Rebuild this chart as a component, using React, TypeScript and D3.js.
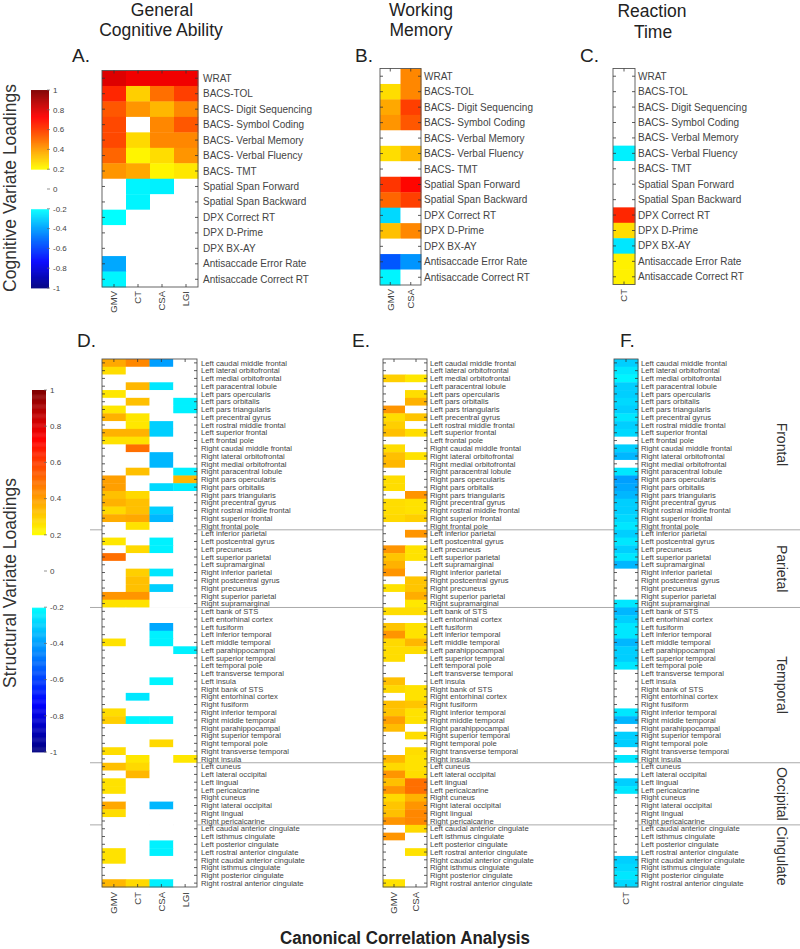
import React from "react";
import * as d3 from "d3";

const FONT = "Arial, 'Liberation Sans', sans-serif";

const cogMeasures = [
  "WRAT", "BACS-TOL", "BACS- Digit Sequencing", "BACS- Symbol Coding", "BACS- Verbal Memory",
  "BACS- Verbal Fluency", "BACS- TMT", "Spatial Span Forward", "Spatial Span Backward",
  "DPX Correct RT", "DPX D-Prime", "DPX BX-AY", "Antisaccade Error Rate", "Antisaccade Correct RT",
];

const gcaCols = ["GMV", "CT", "CSA", "LGI"];
const wmCols = ["GMV", "CSA"];
const rtCols = ["CT"];

// Cognitive loadings (rows = cogMeasures)
const gcaCog = [
  [0.8, 0.76, 0.76, 0.76],
  [0.65, 0.3, 0.5, 0.6],
  [0.55, 0.42, 0.35, 0.45],
  [0.58, 0, 0.45, 0.55],
  [0.58, 0.28, 0.45, 0.45],
  [0.52, 0.22, 0.27, 0.42],
  [0.42, 0.38, 0.22, 0.25],
  [0, -0.22, -0.23, 0],
  [0, -0.22, 0, 0],
  [-0.2, 0, 0, 0],
  [0, 0, 0, 0],
  [0, 0, 0, 0],
  [-0.38, 0, 0, 0],
  [-0.22, 0, 0, 0],
];
const wmCog = [
  [0, 0.45], [0.27, 0.45], [0.38, 0.6], [0.42, 0.55], [0, 0], [0.27, 0.35], [0, 0],
  [0.62, 0.72], [0.52, 0.6], [-0.28, 0], [0.33, 0.45], [0, 0], [-0.55, -0.42], [-0.22, 0],
];
const rtCog = [0, 0, 0, 0, 0, -0.23, 0, 0, 0, 0.65, 0.27, -0.25, 0.23, 0.23];

const regions = [
  "Left caudal middle frontal", "Left lateral orbitofrontal", "Left medial orbitofrontal", "Left paracentral lobule",
  "Left pars opercularis", "Left pars orbitalis", "Left pars triangularis", "Left precentral gyrus",
  "Left rostral middle frontal", "Left superior frontal", "Left frontal pole", "Right caudal middle frontal",
  "Right lateral orbitofrontal", "Right medial orbitofrontal", "Right paracentral lobule", "Right pars opercularis",
  "Right pars orbitalis", "Right pars triangularis", "Right precentral gyrus", "Right rostral middle frontal",
  "Right superior frontal", "Right frontal pole",
  "Left inferior parietal", "Left postcentral gyrus", "Left precuneus", "Left superior parietal", "Left supramarginal",
  "Right inferior parietal", "Right postcentral gyrus", "Right precuneus", "Right superior parietal", "Right supramarginal",
  "Left bank of STS", "Left entorhinal cortex", "Left fusiform", "Left inferior temporal", "Left middle temporal",
  "Left parahippocampal", "Left superior temporal", "Left temporal pole", "Left transverse temporal", "Left insula",
  "Right bank of STS", "Right entorhinal cortex", "Right fusiform", "Right inferior temporal", "Right middle temporal",
  "Right parahippocampal", "Right superior temporal", "Right temporal pole", "Right transverse temporal", "Right insula",
  "Left cuneus", "Left lateral occipital", "Left lingual", "Left pericalcarine",
  "Right cuneus", "Right lateral occipital", "Right lingual", "Right pericalcarine",
  "Left caudal anterior cingulate", "Left isthmus cingulate", "Left posterior cingulate", "Left rostral anterior cingulate",
  "Right caudal anterior cingulate", "Right isthmus cingulate", "Right posterior cingulate", "Right rostral anterior cingulate",
];
const groupNames = ["Frontal", "Parietal", "Temporal", "Occipital", "Cingulate"];
const groupSizes = [22, 10, 20, 8, 8];

// Structural loadings (rows = regions)
const gcaStruct = [
  [0.38, 0.45, -0.4, 0], [0.27, 0, 0, 0], [0, 0, 0, 0], [0, 0.35, -0.25, 0],
  [0.25, 0, 0, 0], [0, 0.33, 0, -0.23], [0.25, 0, 0, -0.23], [0.36, 0.25, 0, 0],
  [0, 0.25, -0.3, 0], [0.36, 0.36, -0.3, 0], [0.26, 0.26, 0, 0], [0, 0.5, 0, 0],
  [0, 0, -0.35, 0], [0, 0, -0.35, 0], [0, 0.33, 0, -0.23], [0.4, 0, 0, 0.35],
  [0.4, 0, -0.28, -0.24], [0.33, 0.28, 0, 0], [0.36, 0.33, 0, 0], [0.28, 0.33, -0.3, 0],
  [0.37, 0.38, -0.35, 0], [0, 0.26, 0, 0],
  [0, 0, 0, 0], [0.25, 0, -0.23, 0], [0, 0.28, -0.23, 0], [0.5, 0, 0, 0], [0, 0, 0, 0],
  [0, 0.3, -0.25, 0], [0, 0.33, 0, 0], [0, 0.33, -0.3, 0], [0.42, 0.42, 0, 0], [0.26, 0.26, 0, 0],
  [0, 0, 0, 0], [0, 0, 0, 0], [0, 0, -0.38, 0], [0, 0, -0.23, 0], [0.26, 0, -0.23, 0],
  [0, 0, 0, -0.23], [0, 0, 0, 0], [0, 0, 0, 0], [0, 0, 0, 0], [0, 0, -0.22, 0],
  [0, 0, 0, 0], [0, -0.25, 0, 0], [0, 0, 0, 0], [0.27, 0, 0, 0], [0.3, -0.22, -0.22, 0],
  [0, 0, 0, 0], [0, 0, 0, 0], [0, 0, 0.28, 0], [0.27, 0, 0, 0], [0, 0.25, 0, 0.25],
  [0.33, 0.28, 0, 0], [0, 0.35, 0, 0], [0.26, 0, 0, 0], [0.26, 0, 0, 0],
  [0, 0, 0, 0], [0.38, 0, -0.35, 0], [0.27, 0, 0, 0], [0, 0, 0, 0],
  [0, 0, 0, 0], [0, 0, 0, 0], [0, 0, -0.23, 0], [0.26, 0, -0.23, 0],
  [0.26, 0, 0, 0], [0, 0, 0, 0], [0, 0, 0, 0], [0.35, 0.28, -0.23, 0],
];
const wmStruct = [
  [0, 0], [0, 0], [0.3, 0.25], [0, 0], [0, 0.27], [0, 0.36], [0.42, 0], [0.27, 0.32],
  [0.3, 0], [0.33, 0.27], [0, 0], [0.27, 0], [0.33, 0.26], [0.35, 0], [0, 0], [0.27, 0],
  [0.27, 0], [0, 0.42], [0.27, 0.26], [0.27, 0.26], [0.28, 0.3], [0, 0],
  [0, 0.42], [0, 0], [0.42, 0.26], [0.32, 0.26], [0.36, 0], [0.42, 0], [0, 0.32], [0.26, 0.32],
  [0, 0.37], [0, 0.25],
  [0.27, 0.27], [0, 0], [0.32, 0.26], [0.42, 0.26], [0.28, 0.35], [0.27, 0.27], [0.27, 0], [0, 0],
  [0, 0], [0.33, 0], [0.28, 0.26], [0, 0.26], [0.33, 0.32], [0.32, 0.26], [0.4, 0.26], [0.34, 0],
  [0, 0.27], [0, 0], [0, 0.27], [0.35, 0.26],
  [0.28, 0.26], [0.42, 0.27], [0.33, 0.5], [0.42, 0.5], [0.28, 0.36], [0.32, 0.42], [0.33, 0.45], [0.42, 0.45],
  [0, 0.28], [0.42, 0], [0, 0], [0, 0.26], [0, 0], [0, 0], [0, 0], [0.26, 0],
];
const rtStruct = [
  -0.3, -0.25, -0.22, -0.3, -0.3, -0.28, -0.3, -0.25, -0.3, -0.28, 0, -0.3, -0.35, 0, -0.25, -0.4,
  -0.38, -0.35, -0.3, -0.3, -0.28, -0.25,
  -0.3, -0.25, -0.3, -0.25, -0.35, 0, 0, 0, 0, -0.25,
  -0.35, -0.3, -0.25, -0.25, -0.35, -0.3, -0.3, -0.25, 0, 0, 0, 0, 0, -0.25, -0.35, 0, -0.3, -0.3, 0, -0.25,
  0, 0, -0.3, -0.25, 0, 0, 0, 0,
  0, 0, 0, 0, -0.3, -0.28, -0.25, -0.28,
];

const cbTicks = [1, 0.8, 0.6, 0.4, 0.2, 0, -0.2, -0.4, -0.6, -0.8, -1];

const posScale = d3.scaleLinear<string>().domain([0.2, 0.73, 1]).range(["#ffff00", "#ff0000", "#800000"]).clamp(true);
const negScale = d3.scaleLinear<string>().domain([-1, -0.73, -0.2]).range(["#000080", "#0000ff", "#00ffff"]).clamp(true);
function loadColor(v: number) {
  if (v >= 0.2) return posScale(v);
  if (v <= -0.2) return negScale(v);
  return "#ffffff";
}

type HMProps = {
  x: number; y: number; w: number; h: number;
  rows: string[]; cols: string[]; values: number[][];
  labelX: number; labelSize: number; colLabelY: number; colLabelSize: number;
};

function Heatmap({ x, y, w, h, rows, cols, values, labelX, labelSize, colLabelY, colLabelSize }: HMProps) {
  const xs = d3.scaleBand<string>().domain(cols).range([x, x + w]);
  const ys = d3.scaleBand<number>().domain(d3.range(rows.length)).range([y, y + h]);
  const bw = xs.bandwidth();
  const bh = ys.bandwidth();
  return (
    <g>
      {values.map((row, i) =>
        row.map((v, j) => (
          <rect key={`${i}-${j}`} x={xs(cols[j])!} y={ys(i)!} width={bw + 0.4} height={bh + 0.4} fill={loadColor(v)} />
        ))
      )}
      <rect x={x} y={y} width={w} height={h} fill="none" stroke="#555" strokeWidth={0.9} />
      {rows.map((_, i) => {
        const cy = ys(i)! + bh / 2;
        return (
          <g key={`t${i}`} stroke="#333" strokeWidth={0.8}>
            <line x1={x} x2={x + 3} y1={cy} y2={cy} />
            <line x1={x + w - 3} x2={x + w} y1={cy} y2={cy} />
          </g>
        );
      })}
      {cols.map((c) => {
        const cx = xs(c)! + bw / 2;
        return (
          <g key={`ct${c}`} stroke="#333" strokeWidth={0.8}>
            <line x1={cx} x2={cx} y1={y} y2={y + 3} />
            <line x1={cx} x2={cx} y1={y + h - 3} y2={y + h} />
          </g>
        );
      })}
      {rows.map((r, i) => (
        <text key={`l${i}`} x={labelX} y={ys(i)! + bh / 2} dy="0.35em" fontSize={labelSize} fill="#444" fontFamily={FONT}>
          {r}
        </text>
      ))}
      {cols.map((c) => {
        const cx = xs(c)! + bw / 2;
        return (
          <text key={`cl${c}`} transform={`translate(${cx + colLabelSize * 0.36},${colLabelY}) rotate(-90)`}
            textAnchor="end" fontSize={colLabelSize} fill="#444" fontFamily={FONT}>
            {c}
          </text>
        );
      })}
    </g>
  );
}

function ColorBar({ x, y, w, h, labelSize }: { x: number; y: number; w: number; h: number; labelSize: number }) {
  const s = d3.scaleLinear().domain([1, -1]).range([y, y + h]);
  const step = 0.005;
  const vals = d3.range(-1, 1, step);
  return (
    <g>
      {vals.map((v, i) => (
        <rect key={i} x={x} y={s(v + step)} width={w} height={s(v) - s(v + step) + 0.4} fill={loadColor(v + step / 2)} />
      ))}
      {cbTicks.map((t) => (
        <g key={t}>
          <line x1={x + w - 2} x2={x + w + 1} y1={s(t)} y2={s(t)} stroke="#666" strokeWidth={0.7} />
          <text x={x + w + 4} y={s(t)} dy="0.35em" fontSize={labelSize} fill="#444" fontFamily={FONT}>
            {String(t)}
          </text>
        </g>
      ))}
    </g>
  );
}

export default function App() {
  const dTop = 359;
  const dH = 528;
  const ys = d3.scaleLinear().domain([0, regions.length]).range([dTop, dTop + dH]);
  const bounds = d3.cumsum(groupSizes);
  const starts = [0, ...Array.from(bounds).slice(0, -1)];
  return (
    <svg width={800} height={949} style={{ position: "absolute", left: 0, top: 0, background: "#fff" }} fontFamily={FONT}>
      <rect width={800} height={949} fill="#fff" />
      {/* Titles */}
      <g fontSize={17.5} fill="#222" textAnchor="middle">
        <text x={162} y={15.5}>General</text>
        <text x={161} y={36}>Cognitive Ability</text>
        <text x={421} y={15.5}>Working</text>
        <text x={421} y={36}>Memory</text>
        <text x={652} y={17}>Reaction</text>
        <text x={653} y={38}>Time</text>
      </g>
      <g fontSize={19} fill="#222">
        <text x={72} y={62}>A.</text>
        <text x={355} y={62}>B.</text>
        <text x={580} y={62}>C.</text>
        <text x={77} y={347}>D.</text>
        <text x={352} y={347}>E.</text>
        <text x={620} y={347}>F.</text>
      </g>
      <text transform="translate(16,188) rotate(-90)" textAnchor="middle" fontSize={17.5} fill="#333">Cognitive Variate Loadings</text>
      <text transform="translate(16,583) rotate(-90)" textAnchor="middle" fontSize={17.5} fill="#333">Structural Variate Loadings</text>

      <ColorBar x={31} y={90} w={18} h={198} labelSize={8} />
      <ColorBar x={32} y={390} w={14} h={362} labelSize={8} />

      {/* separators for structural panels */}
      {Array.from(bounds).slice(0, -1).map((b) => (
        <line key={b} x1={90} x2={800} y1={ys(b)} y2={ys(b)} stroke="#aaa" strokeWidth={1} />
      ))}

      <Heatmap x={102} y={70.5} w={96} h={216.5} rows={cogMeasures} cols={gcaCols} values={gcaCog}
        labelX={203} labelSize={10} colLabelY={291} colLabelSize={9.5} />
      <Heatmap x={380} y={68.5} w={41} h={216.5} rows={cogMeasures} cols={wmCols} values={wmCog}
        labelX={424} labelSize={10} colLabelY={289} colLabelSize={9.5} />
      <Heatmap x={613} y={68.5} w={22} h={216} rows={cogMeasures} cols={rtCols} values={rtCog.map((v) => [v])}
        labelX={638} labelSize={10} colLabelY={289} colLabelSize={9.5} />

      <Heatmap x={102} y={dTop} w={95} h={dH} rows={regions} cols={gcaCols} values={gcaStruct}
        labelX={201} labelSize={7.7} colLabelY={892} colLabelSize={9.5} />
      <Heatmap x={383} y={dTop} w={44} h={dH} rows={regions} cols={wmCols} values={wmStruct}
        labelX={430} labelSize={7.7} colLabelY={892} colLabelSize={9.5} />
      <Heatmap x={614} y={dTop} w={24} h={dH} rows={regions} cols={rtCols} values={rtStruct.map((v) => [v])}
        labelX={641} labelSize={7.7} colLabelY={892} colLabelSize={9.5} />

      {groupNames.map((g, i) => {
        const cy = (ys(starts[i]) + ys(bounds[i])) / 2;
        return (
          <text key={g} transform={`translate(777,${cy}) rotate(90)`} textAnchor="middle" fontSize={14} fill="#333">
            {g}
          </text>
        );
      })}

      <text x={405} y={944} textAnchor="middle" fontSize={18} fontWeight="bold" fill="#222"
        textLength={250} lengthAdjust="spacingAndGlyphs">
        Canonical Correlation Analysis
      </text>
    </svg>
  );
}
